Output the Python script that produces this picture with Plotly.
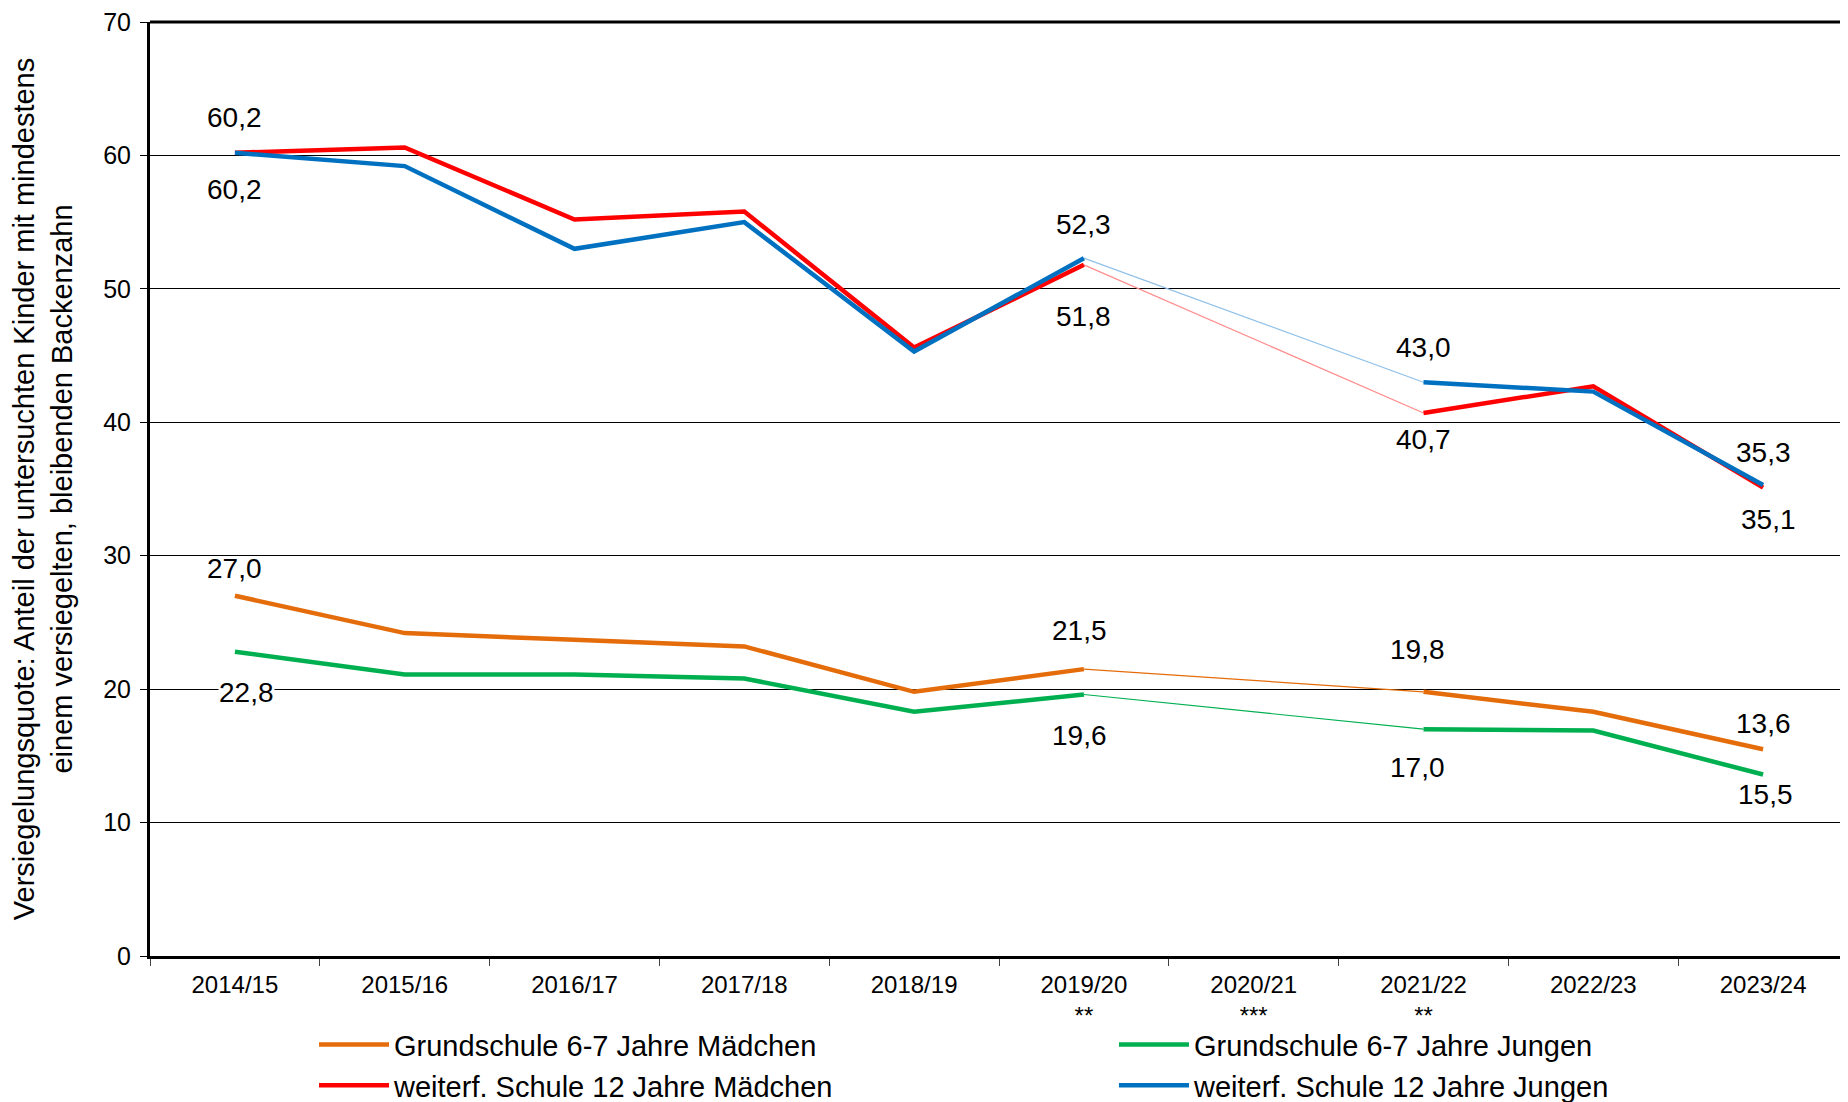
import plotly.graph_objects as go

categories = ["2014/15", "2015/16", "2016/17", "2017/18", "2018/19",
              "2019/20", "2020/21", "2021/22", "2022/23", "2023/24"]
tick_labels = ["2014/15", "2015/16", "2016/17", "2017/18", "2018/19",
               "2019/20<br>**", "2020/21<br>***", "2021/22<br>**", "2022/23", "2023/24"]

gs_maedchen = [27.0, 24.2, 23.7, 23.2, 19.8, 21.5, None, 19.8, 18.3, 15.5]
gs_jungen = [22.8, 21.1, 21.1, 20.8, 18.3, 19.6, None, 17.0, 16.9, 13.6]
ws_maedchen = [60.2, 60.6, 55.2, 55.8, 45.6, 51.8, None, 40.7, 42.7, 35.1]
ws_jungen = [60.2, 59.2, 53.0, 55.0, 45.3, 52.3, None, 43.0, 42.3, 35.3]

series_names = ["Grundschule 6-7 Jahre Mädchen", "Grundschule 6-7 Jahre Jungen",
                "weiterf. Schule 12 Jahre Mädchen", "weiterf. Schule 12 Jahre Jungen"]

FONT = "Liberation Sans, Arial, sans-serif"

series = [
    (series_names[0], gs_maedchen, "#E46C0A", "#E46C0A", "legend"),
    (series_names[1], gs_jungen, "#00B050", "#00B050", "legend2"),
    (series_names[2], ws_maedchen, "#FF0000", "#FF8C8C", "legend"),
    (series_names[3], ws_jungen, "#0070C0", "#8FC0E8", "legend2"),
]

fig = go.Figure()

# thin connectors across the missing year
for name, vals, col, light, lg in series:
    i0, i1 = 5, 7
    fig.add_trace(go.Scatter(
        x=[categories[i0], categories[i1]], y=[vals[i0], vals[i1]],
        mode="lines", line=dict(color=light, width=1.2),
        showlegend=False, hoverinfo="skip"))

for name, vals, col, light, lg in series:
    fig.add_trace(go.Scatter(
        x=categories, y=vals, name=name, mode="lines",
        line=dict(color=col, width=4.5), connectgaps=False, legend=lg))

def fmt(v):
    return f"{v:.1f}".replace(".", ",")

# data labels: (category index, anchor series, text series, yshift, xshift)
labels = [
    (0, ws_jungen, ws_maedchen, 35, 0),
    (0, ws_jungen, ws_jungen, -37, 0),
    (0, gs_maedchen, gs_maedchen, 27, 0),
    (0, gs_jungen, gs_jungen, -41, 12),
    (5, ws_jungen, ws_jungen, 34, 0),
    (5, ws_maedchen, ws_maedchen, -52, 0),
    (5, gs_maedchen, gs_maedchen, 39, -4),
    (5, gs_jungen, gs_jungen, -41, -4),
    (7, ws_jungen, ws_jungen, 35, 0),
    (7, ws_maedchen, ws_maedchen, -27, 0),
    (7, gs_maedchen, gs_maedchen, 42, -6),
    (7, gs_jungen, gs_jungen, -38, -6),
    (9, ws_jungen, ws_jungen, 33, 0),
    (9, ws_maedchen, ws_maedchen, -32, 5),
    (9, gs_maedchen, gs_jungen, 26, 0),
    (9, gs_jungen, gs_maedchen, -20, 2),
]
for idx, ysrc, tsrc, ys, xs in labels:
    bg = "white" if (idx == 0 and tsrc is gs_jungen) else "rgba(0,0,0,0)"
    fig.add_annotation(x=categories[idx], y=ysrc[idx], text=fmt(tsrc[idx]),
                       showarrow=False, yshift=ys, xshift=xs,
                       font=dict(size=28, color="black", family=FONT),
                       bgcolor=bg, borderpad=0)

# the page body has an 8px default margin, so the figure is sized to fit the window
fig.update_layout(
    width=1840, height=1094,
    margin=dict(l=142, r=0, t=14, b=146, autoexpand=False),
    plot_bgcolor="white", paper_bgcolor="white",
    font=dict(family=FONT, color="black"),
    legend=dict(x=0.0966, y=-0.0676, xanchor="left", yanchor="top",
                orientation="v", font=dict(size=29, family=FONT),
                bgcolor="rgba(0,0,0,0)", tracegroupgap=0, itemwidth=70),
    legend2=dict(x=0.5677, y=-0.0676, xanchor="left", yanchor="top",
                 orientation="v", font=dict(size=29, family=FONT),
                 bgcolor="rgba(0,0,0,0)", tracegroupgap=0, itemwidth=70),
    showlegend=True,
)

fig.update_xaxes(
    type="category", categoryorder="array", categoryarray=categories,
    tickmode="array", tickvals=categories, ticktext=tick_labels,
    tickson="boundaries", ticks="outside", ticklen=7, tickcolor="#404040",
    tickfont=dict(size=24, family=FONT, color="black"), ticklabelstandoff=5,
    showline=True, linecolor="black", linewidth=3, mirror=False,
    showgrid=False, range=[-0.5, 9.5], fixedrange=True,
)
fig.update_yaxes(
    range=[0, 70], tickvals=[0, 10, 20, 30, 40, 50, 60, 70],
    ticks="outside", ticklen=7, tickcolor="black",
    tickfont=dict(size=25, family=FONT, color="black"), ticklabelstandoff=4,
    ticklabeloverflow="allow",
    showline=True, linecolor="black", linewidth=3,
    showgrid=True, gridcolor="black", gridwidth=1, zeroline=False,
    title=dict(text="Versiegelungsquote: Anteil der untersuchten Kinder mit mindestens<br>einem versiegelten, bleibenden Backenzahn",
               font=dict(size=29, family=FONT, color="black"), standoff=24),
)

# top border of the plot area
fig.add_shape(type="line", xref="paper", yref="paper", x0=0, x1=1, y0=1, y1=1,
              line=dict(color="black", width=3))

fig.write_html("out.html")
